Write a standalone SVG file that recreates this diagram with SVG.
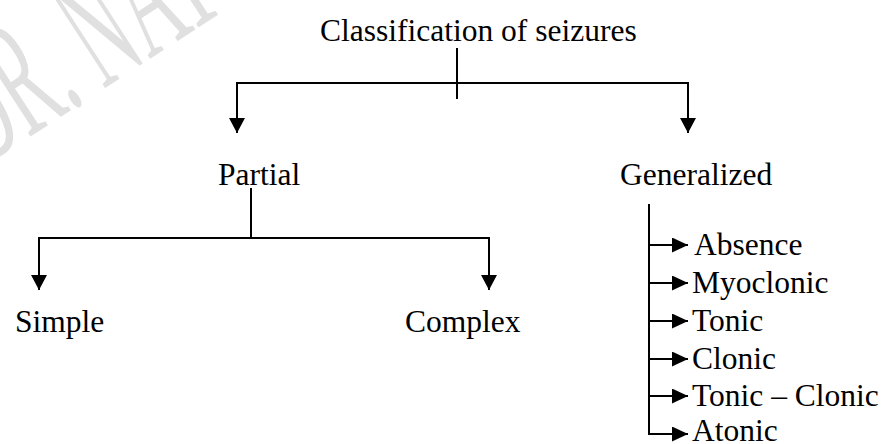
<svg xmlns="http://www.w3.org/2000/svg" width="887" height="444" viewBox="0 0 887 444">
<defs>
<style>
.t{font-family:"Liberation Serif","Times New Roman",serif;font-size:31.5px;fill:#000}
.c{stroke:#000;stroke-width:2;fill:none}
.wm{font-family:"Liberation Serif","Times New Roman",serif;font-size:170px;fill:#e0e0e0}
</style>
<marker id="ah" markerUnits="userSpaceOnUse" markerWidth="16" markerHeight="16" viewBox="0 0 16 16" refX="15" refY="8" orient="auto">
<path d="M0,0 L15,8 L0,16 Z" fill="#000"/>
</marker>
<marker id="ah2" markerUnits="userSpaceOnUse" markerWidth="17" markerHeight="15" viewBox="0 0 17 15" refX="16" refY="7.5" orient="auto">
<path d="M0,0 L16,7.5 L0,15 Z" fill="#000"/>
</marker>
</defs>
<rect width="887" height="444" fill="#fff"/>
<text class="wm" transform="translate(-18,168) rotate(-33) scale(0.45,1)">DR. NAT</text>
<g id="connectors">
<line class="c" x1="457" y1="48" x2="457" y2="99" stroke-width="1.6"/>
<line class="c" x1="236" y1="83" x2="689" y2="83"/>
<line class="c" x1="237" y1="82" x2="237" y2="133" marker-end="url(#ah)"/>
<line class="c" x1="688" y1="82" x2="688" y2="133" marker-end="url(#ah)"/>
<line class="c" x1="251" y1="188" x2="251" y2="238" stroke-width="1.6"/>
<line class="c" x1="38" y1="238" x2="490" y2="238"/>
<line class="c" x1="39" y1="237" x2="39" y2="290" marker-end="url(#ah)"/>
<line class="c" x1="489" y1="237" x2="489" y2="290" marker-end="url(#ah)"/>
<path class="c" d="M649,204 V434 H688" marker-end="url(#ah2)"/>
<line class="c" x1="648" y1="245" x2="688" y2="245" marker-end="url(#ah2)"/>
<line class="c" x1="648" y1="283" x2="688" y2="283" marker-end="url(#ah2)"/>
<line class="c" x1="648" y1="321" x2="688" y2="321" marker-end="url(#ah2)"/>
<line class="c" x1="648" y1="359" x2="688" y2="359" marker-end="url(#ah2)"/>
<line class="c" x1="648" y1="396" x2="688" y2="396" marker-end="url(#ah2)"/>
</g>
<g id="root"><text class="t" x="320" y="41">Classification of seizures</text></g>
<g id="partial"><text class="t" x="218" y="185">Partial</text></g>
<g id="generalized"><text class="t" x="620" y="185">Generalized</text></g>
<g id="simple"><text class="t" x="15" y="332">Simple</text></g>
<g id="complex"><text class="t" x="405" y="332">Complex</text></g>
<g id="absence"><text class="t" x="694" y="255">Absence</text></g>
<g id="myoclonic"><text class="t" x="692" y="293">Myoclonic</text></g>
<g id="tonic"><text class="t" x="692" y="331">Tonic</text></g>
<g id="clonic"><text class="t" x="692" y="369">Clonic</text></g>
<g id="tonic-clonic"><text class="t" x="692" y="406">Tonic – Clonic</text></g>
<g id="atonic"><text class="t" x="692" y="441">Atonic</text></g>
</svg>
